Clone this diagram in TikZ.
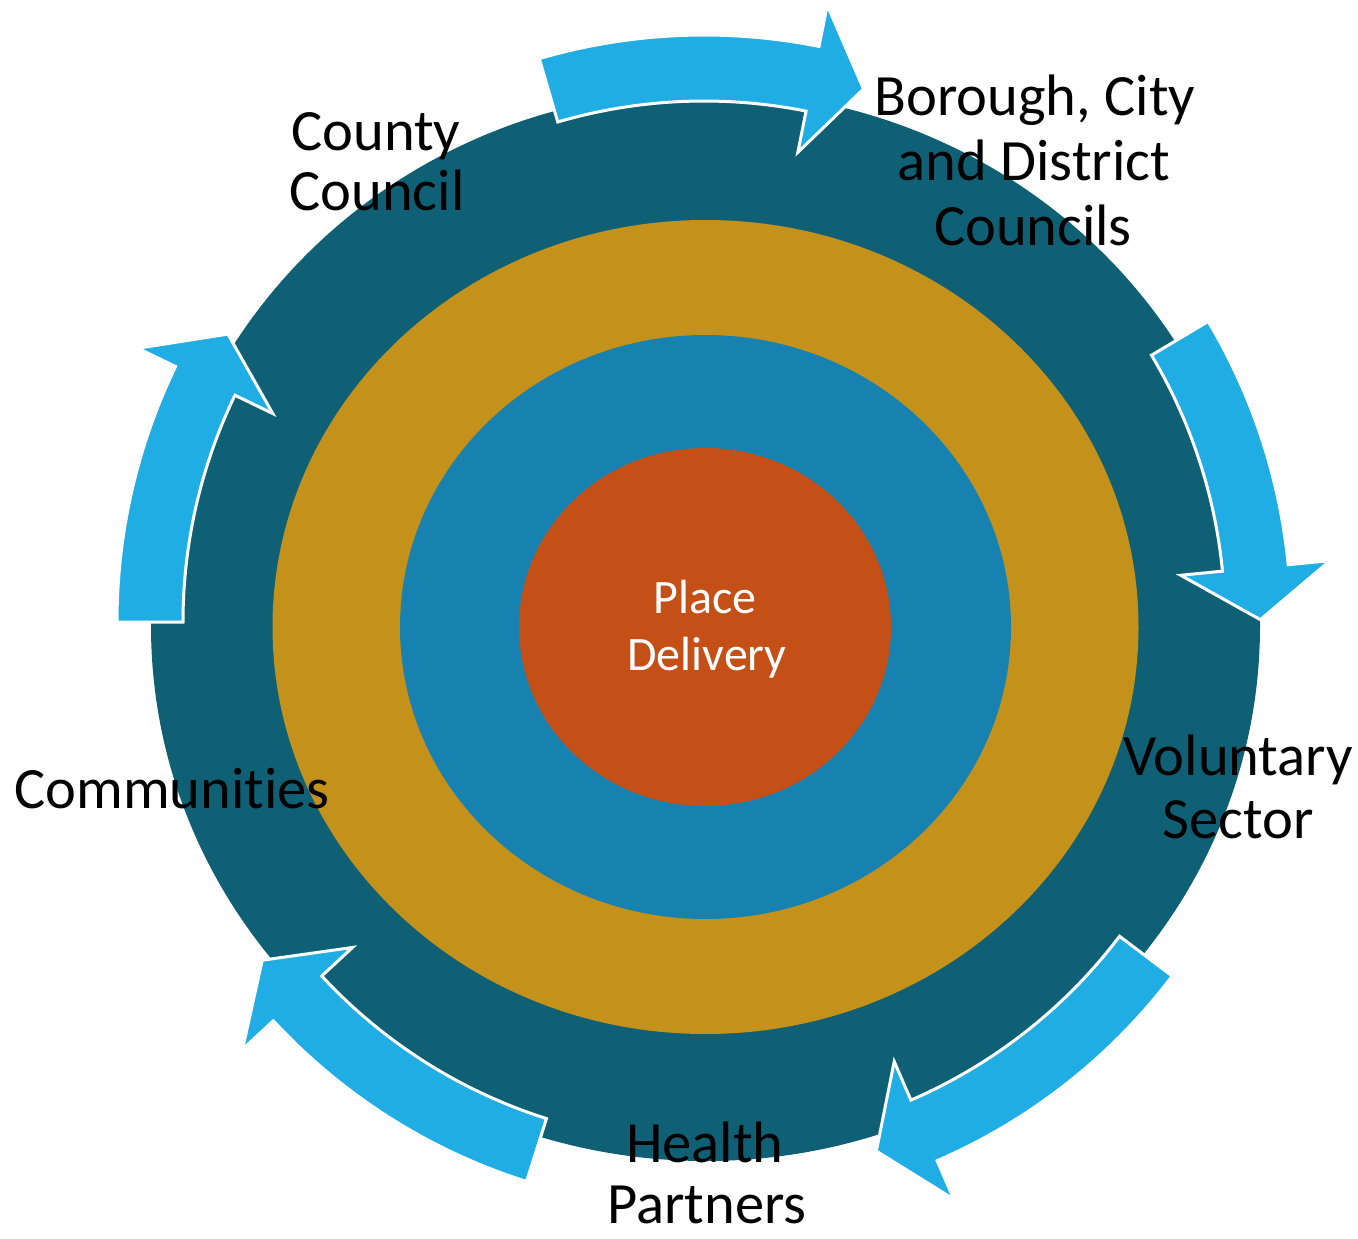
\documentclass[tikz,border=0pt]{standalone}
\usepackage{fontspec}
\setmainfont{Carlito}[Ligatures=NoCommon]
\definecolor{ringdark}{RGB}{16,96,117}
\definecolor{ringgold}{RGB}{196,145,26}
\definecolor{ringblue}{RGB}{23,130,176}
\definecolor{coreorange}{RGB}{197,80,23}
\definecolor{arrowblue}{RGB}{31,173,227}

% curved arrow on the ring: #1 = tail angle, #2 = angle where the head starts
\newcommand\ringarrow[2]{%
  \path[cyclearrow] (#1:587) arc[start angle=#1, end angle=#2, radius=587]
    -- (#2:629) -- (#2+5.36:556.4) -- (#2:479) -- (#2:521)
    arc[start angle=#2, end angle=#1, radius=521] -- cycle;}

\begin{document}
\begin{tikzpicture}[x=1pt,y=-1pt,
  cyclearrow/.style={fill=arrowblue, draw=white, line width=3pt, line join=miter},
  ringtext/.style={font=\fontsize{58.5}{63}\selectfont, text=black, inner sep=0pt, anchor=base},
  coretext/.style={font=\fontsize{48}{57}\selectfont, text=white, inner sep=0pt, anchor=base}]
\path[use as bounding box] (0,0) rectangle (1358,1239);

% concentric rings
\fill[ringdark]   (705.5,626) ellipse [x radius=554.5, y radius=535];
\fill[ringgold]   (705.5,627) ellipse [x radius=433, y radius=407];
\fill[ringblue]   (705.5,627) ellipse [x radius=305.5, y radius=292];
\fill[coreorange] (705,627)   ellipse [x radius=186, y radius=179];

% the five arrows circling clockwise
\begin{scope}[shift={(704,622)}]
  \ringarrow{180}{205.8}
  \ringarrow{253.7}{281.3}
  \ringarrow{329.2}{354.4}
  \ringarrow{37.1}{66.6}
  \ringarrow{107.6}{137.2}
\end{scope}

% labels
\node[ringtext] (county1) at (376,150) {County};
\node[ringtext] (county2) at (377,210) {Council};
\node[ringtext] (borough1) at (1035,115) {Borough, City};
\node[ringtext] (borough2) at (1034,180) {and District};
\node[ringtext] (borough3) at (1033,245) {Councils};
\node[ringtext] (vol1) at (1238,775) {Voluntary};
\node[ringtext] (vol2) at (1238,838) {Sector};
\node[ringtext] (comm) at (172,808) {Communities};
\node[ringtext] (health1) at (705,1162) {Health};
\node[ringtext] (health2) at (707,1223) {Partners};
\node[coretext] (place1) at (705,613) {Place};
\node[coretext] (place2) at (707,670) {Delivery};
\end{tikzpicture}
\end{document}
